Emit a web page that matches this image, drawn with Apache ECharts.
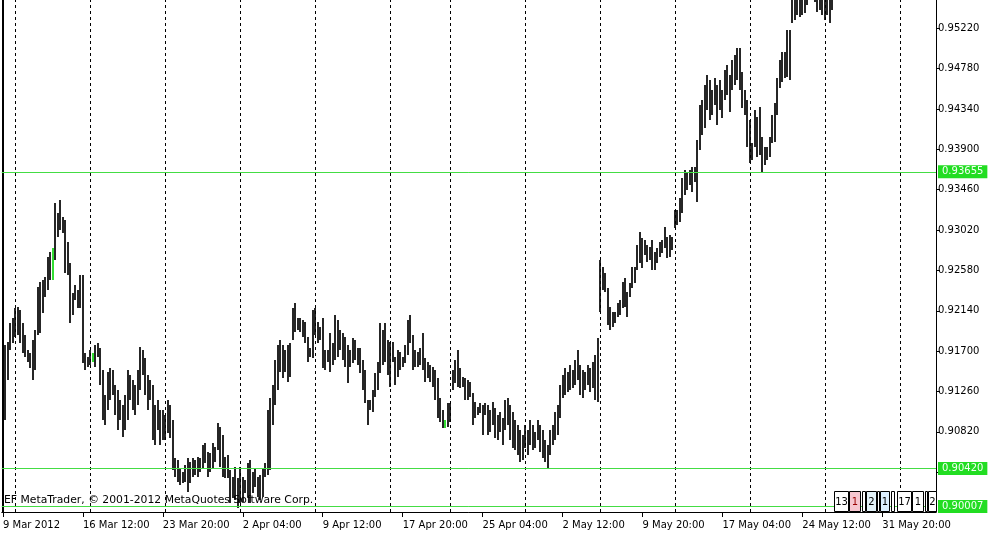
<!DOCTYPE html>
<html><head><meta charset="utf-8">
<script src="https://cdn.jsdelivr.net/npm/echarts@6/dist/echarts.min.js"></script>
<style>html,body{margin:0;padding:0;background:#fff}#c{width:1001px;height:538px}</style>
</head><body><div id="c"></div>
<script>
// H4 bars, first bar Fri 9 Mar 2012 04:00 (weekends skipped, Mon 16 Apr missing in the feed)
const highs = [
0.91712,0.91767,0.91799,0.92007,0.92061,0.92170,0.92181,0.92148,0.92007,0.91876,
0.91712,0.91680,0.91821,0.91930,0.92399,0.92454,0.92476,0.92508,0.92726,0.92781,
0.92825,0.93315,0.93206,0.93348,0.93163,0.93130,0.92890,0.92661,0.92334,0.92421,
0.92367,0.92530,0.92530,0.91680,0.91636,0.91712,0.91680,0.91767,0.91789,0.91734,
0.91494,0.91222,0.91472,0.91516,0.91494,0.91331,0.91276,0.91167,0.91112,0.91222,
0.91494,0.91440,0.91385,0.91331,0.91494,0.91745,0.91712,0.91625,0.91440,0.91385,
0.91331,0.91112,0.91167,0.91058,0.91058,0.91003,0.91167,0.91112,0.90949,0.90535,
0.90513,0.90425,0.90382,0.90458,0.90535,0.90491,0.90535,0.90513,0.90545,0.90535,
0.90676,0.90698,0.90600,0.90589,0.90698,0.90654,0.90916,0.90873,0.90785,0.90545,
0.90567,0.90404,0.90327,0.90436,0.90316,0.90436,0.90327,0.90295,0.90480,0.90513,
0.90382,0.90425,0.90327,0.90349,0.90425,0.90480,0.91058,0.91189,0.91331,0.91603,
0.91767,0.91821,0.91767,0.91712,0.91767,0.91789,0.92170,0.92225,0.92061,0.92061,
0.92039,0.92018,0.91854,0.91734,0.92148,0.92170,0.92018,0.91963,0.92061,0.91712,
0.91712,0.91898,0.91789,0.92094,0.92039,0.91930,0.91898,0.91854,0.91767,0.91712,
0.91843,0.91821,0.91734,0.91734,0.91603,0.91494,0.91167,0.91167,0.91276,0.91461,
0.91581,0.92007,0.91930,0.92007,0.91821,0.91799,0.91799,0.91636,0.91712,0.91690,
0.91636,0.91767,0.92039,0.92094,0.91876,0.91712,0.91690,0.91734,0.91898,0.91625,
0.91581,0.91549,0.91527,0.91494,0.91407,0.91189,0.91058,0.90949,0.91134,0.91134,
0.91494,0.91603,0.91712,0.91516,0.91418,0.91407,0.91385,0.91363,0.91243,0.91145,
0.91091,0.91134,0.91112,0.91134,0.91112,0.91058,0.91145,0.91080,0.91003,0.91036,
0.90971,0.91167,0.91189,0.91112,0.91036,0.90949,0.90894,0.90840,0.90785,0.90894,
0.90840,0.90949,0.90894,0.90818,0.90949,0.90894,0.90840,0.90731,0.90676,0.90840,
0.90894,0.91036,0.91112,0.91331,0.91440,0.91516,0.91472,0.91549,0.91494,0.91603,
0.91712,0.91549,0.91494,0.91472,0.91549,0.91516,0.91581,0.91658,0.91843,0.92694,
0.92617,0.92552,0.92388,0.92181,0.92127,0.92127,0.92225,0.92257,0.92454,0.92497,
0.92345,0.92443,0.92617,0.92617,0.92857,0.92999,0.92934,0.92912,0.92857,0.92835,
0.92912,0.92781,0.92825,0.92890,0.92912,0.93054,0.92945,0.92966,0.92945,0.93239,
0.93239,0.93370,0.93588,0.93675,0.93653,0.93675,0.93708,0.93708,0.94002,0.94384,
0.94438,0.94602,0.94711,0.94657,0.94548,0.94678,0.94602,0.94657,0.94548,0.94766,
0.94820,0.94711,0.94875,0.94929,0.95006,0.95006,0.94744,0.94548,0.94438,0.94220,
0.93970,0.94329,0.94253,0.94362,0.94035,0.93926,0.93926,0.94035,0.94275,0.94406,
0.94678,0.94875,0.94962,0.94962,0.95202,0.95202,0.95638,0.95638,0.95693,0.95638,
0.95638,0.95638,0.95584,0.95747,0.95802,0.95693,0.95562,0.95616,0.95584,0.95584,
0.95562,0.95529,0.95584
];
const lows = [
0.91167,0.90949,0.91385,0.91712,0.91789,0.91854,0.91876,0.91789,0.91680,0.91636,
0.91581,0.91516,0.91385,0.91494,0.91876,0.91898,0.92116,0.92290,0.92367,0.92476,
0.92476,0.92694,0.92945,0.93021,0.92988,0.92552,0.92530,0.92007,0.92094,0.92257,
0.92170,0.92170,0.91570,0.91494,0.91527,0.91549,0.91581,0.91527,0.91636,0.91331,
0.90949,0.90894,0.91058,0.91167,0.91222,0.91003,0.90840,0.90949,0.90764,0.90840,
0.90949,0.91167,0.91058,0.91003,0.91112,0.91276,0.91440,0.91222,0.91058,0.91167,
0.90731,0.90676,0.90840,0.90676,0.90731,0.90731,0.90807,0.90753,0.90404,0.90327,
0.90273,0.90240,0.90262,0.90273,0.90164,0.90262,0.90327,0.90349,0.90327,0.90382,
0.90425,0.90480,0.90327,0.90382,0.90425,0.90491,0.90622,0.90436,0.90327,0.90316,
0.90316,0.90044,0.90098,0.90076,0.89989,0.90044,0.90055,0.90153,0.90109,0.90044,
0.90153,0.90218,0.90109,0.90076,0.90109,0.90327,0.90349,0.90404,0.90894,0.91112,
0.91276,0.91472,0.91407,0.91472,0.91363,0.91418,0.91821,0.91909,0.91930,0.91909,
0.91854,0.91789,0.91581,0.91636,0.91625,0.91876,0.91789,0.91821,0.91516,0.91494,
0.91581,0.91472,0.91549,0.91603,0.91636,0.91712,0.91603,0.91527,0.91352,0.91527,
0.91570,0.91603,0.91549,0.91461,0.91276,0.91134,0.90894,0.91058,0.91036,0.91200,
0.91276,0.91461,0.91549,0.91581,0.91440,0.91309,0.91581,0.91331,0.91418,0.91494,
0.91527,0.91570,0.91658,0.91789,0.91494,0.91527,0.91527,0.91549,0.91494,0.91363,
0.91407,0.91363,0.91309,0.91167,0.90971,0.90927,0.90862,0.90862,0.90873,0.90927,
0.91276,0.91352,0.91309,0.91298,0.91309,0.91167,0.91167,0.91200,0.90894,0.90971,
0.91003,0.91025,0.90785,0.91003,0.90785,0.90818,0.90894,0.90753,0.90731,0.90818,
0.90676,0.90840,0.90894,0.90731,0.90644,0.90622,0.90567,0.90491,0.90513,0.90644,
0.90567,0.90676,0.90622,0.90644,0.90731,0.90600,0.90535,0.90491,0.90425,0.90567,
0.90676,0.90731,0.90785,0.90971,0.91189,0.91222,0.91254,0.91276,0.91298,0.91331,
0.91385,0.91222,0.91189,0.91276,0.91331,0.91254,0.91298,0.91167,0.91145,0.92127,
0.92367,0.92345,0.91985,0.91930,0.91963,0.92007,0.92072,0.92094,0.92170,0.92181,
0.92072,0.92290,0.92388,0.92443,0.92585,0.92661,0.92606,0.92748,0.92672,0.92694,
0.92585,0.92585,0.92661,0.92726,0.92770,0.92825,0.92715,0.92726,0.92803,0.93043,
0.93075,0.93108,0.93206,0.93403,0.93457,0.93512,0.93435,0.93544,0.93326,0.93893,
0.94057,0.94133,0.94329,0.94220,0.94275,0.94384,0.94166,0.94329,0.94242,0.94438,
0.94493,0.94308,0.94548,0.94602,0.94657,0.94548,0.94351,0.94275,0.93926,0.93751,
0.93784,0.93926,0.93817,0.93839,0.93653,0.93730,0.93784,0.93817,0.93970,0.93980,
0.94275,0.94569,0.94635,0.94678,0.94689,0.94657,0.95278,0.95311,0.95365,0.95344,
0.95365,0.95387,0.95474,0.95562,0.95584,0.95507,0.95398,0.95420,0.95365,0.95311,
0.95365,0.95278,0.95420
];
const greenBars = [20, 36, 177];
const levels = [0.93655, 0.90420, 0.90007];
const priceTicks = [0.90380,0.90820,0.91260,0.91700,0.92140,0.92580,0.93020,0.93460,0.93900,0.94340,0.94780,0.95220];
const labelTimes = ['2012.03.09 04:00','2012.03.16 12:00','2012.03.23 20:00','2012.04.02 04:00','2012.04.09 12:00','2012.04.17 20:00','2012.04.25 04:00','2012.05.02 12:00','2012.05.09 20:00','2012.05.17 04:00','2012.05.24 12:00','2012.05.31 20:00'];
const labelTexts = ['9 Mar 2012','16 Mar 12:00','23 Mar 20:00','2 Apr 04:00','9 Apr 12:00','17 Apr 20:00','25 Apr 04:00','2 May 12:00','9 May 20:00','17 May 04:00','24 May 12:00','31 May 20:00'];
const missingDays = ['2012.04.16'];
const totalSlots = 374;
const watermark = 'EF MetaTrader, \u00a9 2001-2012 MetaQuotes Software Corp.';

// build H4 time axis (weekdays only)
function p2(n){return (n<10?'0':'')+n;}
function dayStr(d){return d.getUTCFullYear()+'.'+p2(d.getUTCMonth()+1)+'.'+p2(d.getUTCDate());}
const cats = [], dows = [];
let t = Date.UTC(2012,2,9,4);
while (cats.length < totalSlots) {
  const d = new Date(t), w = d.getUTCDay();
  if (w !== 0 && w !== 6 && missingDays.indexOf(dayStr(d)) < 0) {
    cats.push(dayStr(d)+' '+p2(d.getUTCHours())+':00'); dows.push(w);
  }
  t += 4*3600*1000;
}
const weekStarts = [];
for (let i = 1; i < cats.length; i++) if (dows[i] < dows[i-1]) weekStarts.push(cats[i]);

const seriesData = highs.map((h,i)=>[i, h, lows[i]]);
const isLabel = (idx, val) => labelTimes.indexOf(val) >= 0;
const FONT = 'DejaVu Sans';

const boxes = [
 {x:834,w:14,t:'13',bg:'#ffffff',c:'#000'},
 {x:849,w:11,t:'1',bg:'#f6c6d0',c:'#900'},
 {x:862,w:3,t:'',bg:'#ffffff',c:'#000'},
 {x:866,w:10,t:'2',bg:'#e2f1f8',c:'#000'},
 {x:877,w:2,t:'',bg:'#ffffff',c:'#000'},
 {x:880,w:9,t:'1',bg:'#dcefff',c:'#000'},
 {x:891,w:3,t:'',bg:'#ffffff',c:'#000'},
 {x:897,w:14,t:'17',bg:'#ffffff',c:'#000'},
 {x:912,w:11,t:'1',bg:'#ffffff',c:'#000'},
 {x:925,w:2,t:'',bg:'#ffffff',c:'#000'},
 {x:928,w:8,t:'2',bg:'#ffffff',c:'#000'}
];
const graphics = [{type:'text', left:4, top:495, z:50, style:{text:watermark, fill:'#000', font:'10.8px "DejaVu Sans"'}}];
boxes.forEach(b=>{
  graphics.push({type:'rect', z:50, shape:{x:b.x+0.5,y:491.5,width:b.w,height:20}, style:{fill:b.bg, stroke:'#000', lineWidth:1}});
  if (b.t) graphics.push({type:'text', z:51, x:b.x+b.w/2+0.5, y:502, style:{text:b.t, fill:b.c, font:'10px "DejaVu Sans"', align:'center', verticalAlign:'middle'}});
});

const sepLines = weekStarts.map(c=>({xAxis:c, lineStyle:{type:[3,3], color:'#000', width:1}, label:{show:false}}));
sepLines.push({xAxis:cats[0], lineStyle:{type:'solid', color:'#000', width:2}, label:{show:false}});
const levelLines = levels.map(v=>({yAxis:v, lineStyle:{type:'solid', color:'#44dd44', width:1},
  label:{show:true, position:'end', distance:2, formatter:()=>v.toFixed(5), color:'#f4fff4',
    backgroundColor:'#22dd22', padding:[1,4,0,4], lineHeight:12, fontFamily:FONT, fontSize:10}}));

const chart = echarts.init(document.getElementById('c'));
chart.setOption({
  animation:false,
  backgroundColor:'#ffffff',
  grid:{left:1, right:65, top:0, bottom:26, containLabel:false},
  xAxis:{
    type:'category', data:cats, boundaryGap:true,
    axisLine:{show:true, lineStyle:{color:'#000', width:1}},
    axisTick:{show:true, interval:isLabel, alignWithLabel:true, length:5, lineStyle:{color:'#000'}},
    axisLabel:{interval:isLabel, align:'left', margin:8, color:'#000', fontFamily:FONT, fontSize:10,
      formatter:(v)=>labelTexts[labelTimes.indexOf(v)]},
    splitLine:{show:false}
  },
  yAxis:{
    type:'value', position:'right', min:0.89946, max:0.95529, scale:true,
    axisLine:{show:true, lineStyle:{color:'#000', width:1}},
    axisTick:{show:true, customValues:priceTicks, length:4, lineStyle:{color:'#000'}},
    axisLabel:{customValues:priceTicks, margin:2, color:'#000', fontFamily:FONT, fontSize:10, formatter:(v)=>v.toFixed(5)},
    splitLine:{show:false}
  },
  series:[{
    type:'line', data:lows, showSymbol:false, silent:true, lineStyle:{opacity:0, width:0}, z:1,
    markLine:{silent:true, symbol:['none','none'], animation:false, data:sepLines}
  },{
    type:'custom', clip:true, data:seriesData, encode:{x:0, y:[1,2]}, z:2,
    renderItem:(params, api)=>{
      const i = api.value(0);
      const top = api.coord([i, api.value(1)]);
      const bot = api.coord([i, api.value(2)]);
      const x = Math.round(top[0]) - 1;
      return {type:'rect', shape:{x:x, y:top[1], width:2, height:Math.max(1, bot[1]-top[1])},
        style:{fill: greenBars.indexOf(i) >= 0 ? '#33dd33' : '#262626'}};
    }
  },{
    type:'line', data:lows, showSymbol:false, silent:true, lineStyle:{opacity:0, width:0}, z:3,
    markLine:{silent:true, symbol:['none','none'], animation:false, precision:5, data:levelLines}
  }],
  graphic: graphics
});
</script></body></html>
